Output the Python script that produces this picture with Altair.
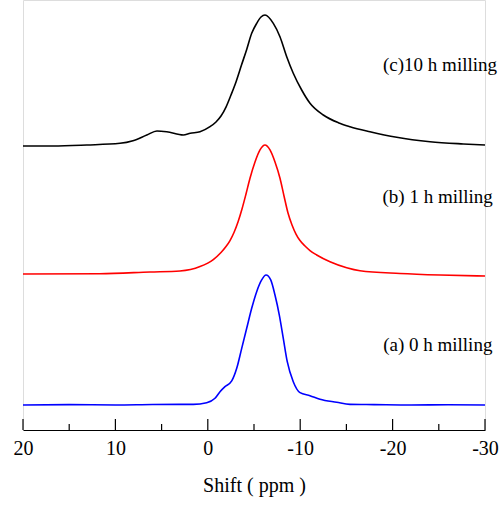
import altair as alt
import pandas as pd

# Series: chemical shift (ppm) and stacked intensity (offset units)
ppm_a = [20, 15, 10, 6, 3.0, 1.57, 0.12, -0.78, -1.32, -1.86, -2.59, -3.13, -3.67, -4.21, -4.75,
         -5.29, -5.83, -6.3, -6.81, -7.27, -7.74, -8.17, -8.6, -9.25, -9.98, -11.06, -12.14,
         -13.95, -15.39, -18, -22, -26, -30]
int_a = [0.0, 0.003, 0.0, 0.004, 0.005, 0.005, 0.018, 0.052, 0.102, 0.141, 0.185, 0.282, 0.436,
         0.59, 0.744, 0.872, 0.962, 1.0, 0.962, 0.846, 0.692, 0.513, 0.333, 0.179, 0.095, 0.072,
         0.044, 0.021, 0.005, 0.003, 0.0, 0.002, 0.0]

ppm_b = [20, 11.7, 6.25, 3.01, 0.844, -0.595, -1.429, -1.97, -2.403, -2.835, -3.268, -3.701,
         -4.134, -4.567, -5.108, -5.649, -6.19, -6.732, -7.273, -7.814, -8.247, -8.68, -9.113,
         -9.545, -9.978, -10.519, -11.061, -11.786, -13.225, -15.032, -16.472, -20.8, -25.13, -30]
int_b = [1.008, 1.01, 1.023, 1.031, 1.065, 1.119, 1.173, 1.219, 1.265, 1.327, 1.408, 1.508,
         1.623, 1.744, 1.869, 1.962, 2.0, 1.962, 1.869, 1.744, 1.608, 1.477, 1.385,
         1.315, 1.265, 1.223, 1.188, 1.154, 1.102, 1.056, 1.033, 1.012, 1.0, 0.992]

ppm_c = [20, 16.75, 13.1, 9.5, 8.1, 6.6, 5.5, 4.45, 2.65, 1.9, 0.844, -0.238, -0.887, -1.429,
         -1.97, -2.511, -3.052, -3.647, -4.21, -4.751, -5.292, -5.758, -6.19, -7.09, -7.81, -8.54,
         -9.25, -10.16, -11.06, -12.5, -14.12, -15.39, -17.55, -20.44, -24.05, -27.65, -30]
int_c = [1.992, 1.992, 2.0, 2.013, 2.033, 2.077, 2.108, 2.102, 2.077, 2.09, 2.102, 2.141, 2.177,
         2.223, 2.292, 2.385, 2.485, 2.615, 2.735, 2.859, 2.936, 2.985, 3.0, 2.936, 2.833, 2.679,
         2.552, 2.423, 2.321, 2.231, 2.172, 2.141, 2.102, 2.059, 2.025, 2.008, 2.0]

series_names = ["a", "b", "c"]
series_colors = ["#0000ff", "#ff0000", "#000000"]

label_texts = ["(a) 0 h milling", "(b) 1 h milling", "(c)10 h milling"]
label_ppm = [-30.8, -30.85, -31.3]
label_int = [0.462, 1.6, 2.615]

tick_values = [20, 15, 10, 5, 0, -5, -10, -15, -20, -25, -30]
tick_major = [True, False, True, False, True, False, True, False, True, False, True]
major_values = [20, 10, 0, -10, -20, -30]

rows = []
for name, xs, ys in [("a", ppm_a, int_a), ("b", ppm_b, int_b), ("c", ppm_c, int_c)]:
    for i, (x, y) in enumerate(zip(xs, ys)):
        rows.append({"series": name, "ppm": x, "intensity": y, "order": i})
df = pd.DataFrame(rows)

labels_df = pd.DataFrame({"text": label_texts, "ppm": label_ppm, "intensity": label_int})
ticks_df = pd.DataFrame({"ppm": tick_values, "major": tick_major})

FONT = "Liberation Serif"

xscale = alt.Scale(domain=[20, -30], nice=False, zero=False)
yscale = alt.Scale(domain=[-0.1923, 3.1154], nice=False, zero=False)

lines = alt.Chart(df).mark_line(strokeWidth=1.6, interpolate="monotone").encode(
    x=alt.X("ppm:Q", scale=xscale,
            axis=alt.Axis(values=major_values, title="Shift ( ppm )", grid=False,
                          tickSize=0, domainColor="black", domainWidth=1.2,
                          labelFont=FONT, labelFontSize=20, labelColor="black",
                          labelPadding=8, labelFlush=False, labelOverlap=False,
                          labelExpr="'' + datum.value",
                          titleFont=FONT, titleFontSize=20, titleFontWeight="normal",
                          titleColor="black", titlePadding=17)),
    y=alt.Y("intensity:Q", scale=yscale, axis=None),
    color=alt.Color("series:N", scale=alt.Scale(domain=series_names, range=series_colors), legend=None),
    order="order:Q",
)

ticks_major = alt.Chart(ticks_df).transform_filter("datum.major").mark_rule(
    color="black", strokeWidth=1.2).encode(
    x=alt.X("ppm:Q", scale=xscale), y=alt.value(430), y2=alt.value(419))

ticks_minor = alt.Chart(ticks_df).transform_filter("!datum.major").mark_rule(
    color="black", strokeWidth=1.2).encode(
    x=alt.X("ppm:Q", scale=xscale), y=alt.value(430), y2=alt.value(424))

texts = alt.Chart(labels_df).mark_text(align="right", baseline="middle", font=FONT,
                                       fontSize=19, color="black").encode(
    x=alt.X("ppm:Q", scale=xscale),
    y=alt.Y("intensity:Q", scale=yscale),
    text="text:N",
)

chart = alt.layer(lines, ticks_major, ticks_minor, texts).properties(
    width=462, height=430,
    autosize=alt.AutoSizeParams(type="none"),
    padding={"left": 23, "top": 0, "right": 19, "bottom": 75},
).configure_view(stroke=None).configure(background="white")

chart.save("out.html", embed_options={"renderer": "svg", "actions": False})
